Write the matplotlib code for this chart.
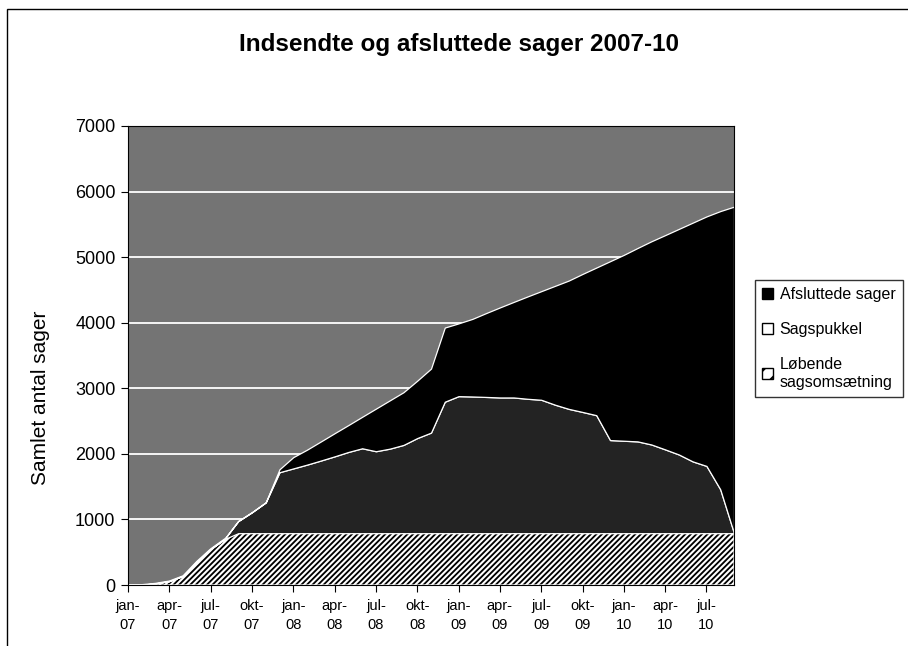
import matplotlib
matplotlib.use("Agg")
import matplotlib.pyplot as plt
from matplotlib.patches import Patch, Rectangle
import numpy as np

plt.rcParams['font.family'] = ['Liberation Sans', 'DejaVu Sans']
plt.rcParams['hatch.linewidth'] = 1.5

# month index 0 = jan-07 ... 44 = sep-10
months = list(range(45))

lobende = [0, 5, 25, 60, 140, 360, 550, 700, 790, 790,
           790, 790, 790, 790, 790, 790, 790, 790, 790, 790,
           790, 790, 790, 790, 790, 790, 790, 790, 790, 790,
           790, 790, 790, 790, 790, 790, 790, 790, 790, 790,
           790, 790, 790, 790, 790]

sagspukkel = [0, 0, 0, 0, 0, 0, 0, 0, 185, 320,
              470, 930, 988, 1046, 1108, 1172, 1239, 1295, 1250, 1289,
              1346, 1451, 1534, 2005, 2090, 2085, 2078, 2070, 2070, 2050,
              2035, 1960, 1896, 1849, 1800, 1420, 1410, 1400, 1353, 1278,
              1200, 1095, 1026, 670, 0]

afsluttede = [0, 0, 0, 0, 0, 0, 0, 0, 0, 0,
              0, 45, 172, 228, 291, 353, 410, 480, 650, 736,
              804, 875, 976, 1131, 1110, 1183, 1279, 1373, 1457, 1560,
              1656, 1812, 1957, 2105, 2251, 2728, 2835, 2950, 3099, 3268,
              3441, 3641, 3805, 4242, 4980]

tick_months = [0, 3, 6, 9, 12, 15, 18, 21, 24, 27, 30, 33, 36, 39, 42]
tick_labels = ["jan-\n07", "apr-\n07", "jul-\n07", "okt-\n07",
               "jan-\n08", "apr-\n08", "jul-\n08", "okt-\n08",
               "jan-\n09", "apr-\n09", "jul-\n09", "okt-\n09",
               "jan-\n10", "apr-\n10", "jul-\n10"]
y_ticks = [0, 1000, 2000, 3000, 4000, 5000, 6000, 7000]

series_names = ["Løbende\nsagsomsætning", "Sagspukkel", "Afsluttede sager"]

fig = plt.figure(figsize=(9.08, 6.46), dpi=100)
fig.patch.set_facecolor('white')
ax = fig.add_axes([128/908, 1-585/646, (734-128)/908, (585-126)/646])
ax.set_facecolor('#747474')

ax.yaxis.grid(True, color='white', linewidth=1.3)
ax.set_axisbelow(True)

polys = ax.stackplot(months, lobende, sagspukkel, afsluttede,
                     colors=['black', '#232323', 'black'],
                     edgecolor='white', linewidth=0.9)
polys[0].set_hatch('//////')

ax.set_xlim(0, 44)
ax.set_ylim(0, 7000)
ax.set_yticks(y_ticks)
ax.set_yticklabels([str(v) for v in y_ticks], fontsize=13)
ax.set_xticks(tick_months)
ax.set_xticklabels(tick_labels, fontsize=10.5, linespacing=1.45)
ax.tick_params(axis='y', direction='out', length=5, width=0.8, pad=4)
ax.tick_params(axis='x', direction='out', length=5, width=0.8, pad=5)
for s in ax.spines.values():
    s.set_color('black')
    s.set_linewidth(0.8)

fig.text(459/908, 1-45/646, "Indsendte og afsluttede sager 2007-10",
         ha='center', va='center', fontsize=17.5, fontweight='bold')
fig.text(41/908, 1-398/646, "Samlet antal sager", rotation=90,
         ha='center', va='center', fontsize=15)

# outer chart border (top and left)
fig.add_artist(Rectangle((7/908, -0.1), 1.2, 1.1 - 9/646, fill=False,
                         edgecolor='black', linewidth=1.0,
                         transform=fig.transFigure))

handles = [Patch(facecolor='black', edgecolor='black', label=series_names[2]),
           Patch(facecolor='white', edgecolor='black', label=series_names[1]),
           Patch(facecolor='white', edgecolor='black', hatch='//', label=series_names[0])]
leg = fig.legend(handles=handles, loc='upper left',
                 bbox_to_anchor=(755/908, 1-280/646),
                 fontsize=11.5, frameon=True, fancybox=False,
                 edgecolor='black', handlelength=0.7, handleheight=0.7,
                 handletextpad=0.4, labelspacing=1.25, borderpad=0.45,
                 borderaxespad=0.0)
leg.get_frame().set_linewidth(1.0)

fig.savefig("out.png", dpi=100, facecolor='white')
